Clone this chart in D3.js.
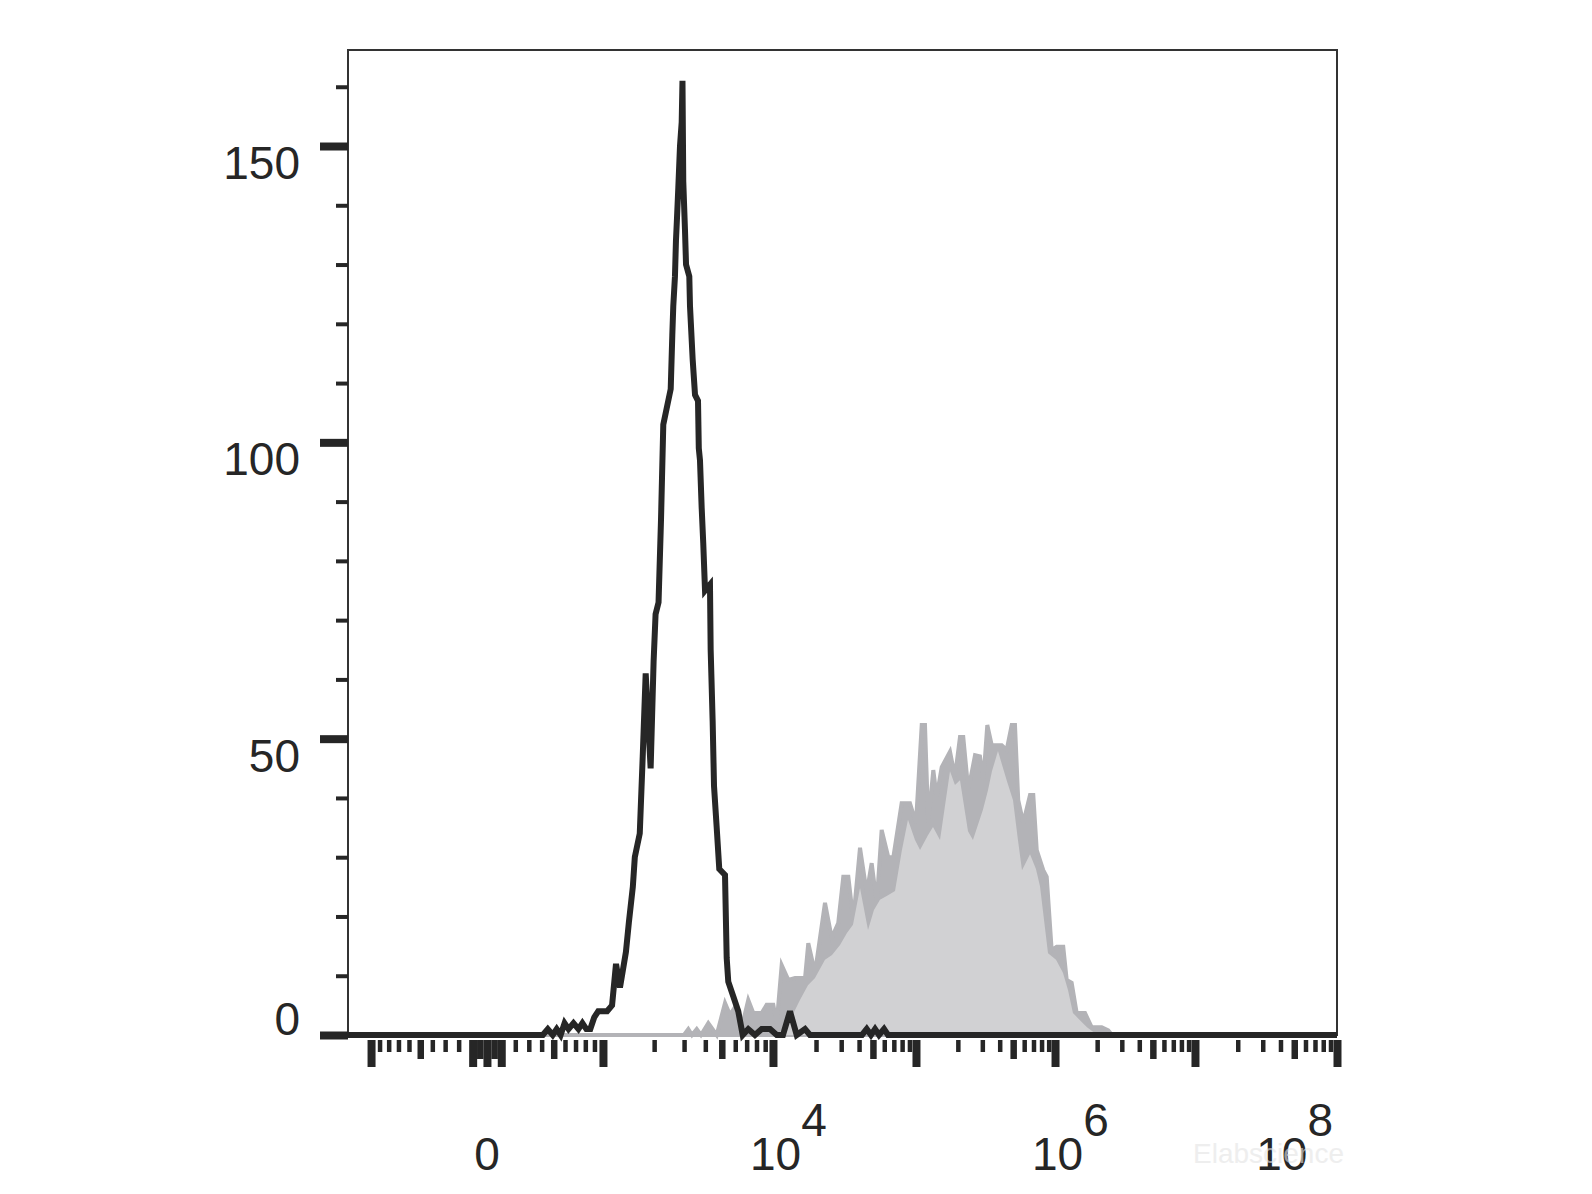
<!DOCTYPE html>
<html><head><meta charset="utf-8">
<script src="https://cdn.jsdelivr.net/npm/d3@7"></script>
<style>html,body{margin:0;padding:0;background:#fff;} svg{display:block;}</style>
</head><body>
<svg id="c" width="1592" height="1194"></svg>
<script>
// ---------- data (display channel 0..1000, event counts) ----------
const isotypeCh = [0,197,202,207,211,215,219,223,228,233,237,241,245,249,253,258,262,267,271,275,277,281,284,288,290,295,298,301,306,309,311,314,316.5,317.5,318.8,326.3,327.9,328.9,330.6,331.6,332.7,334,335.7,337.4,338.2,339,340.7,341.8,345.1,345.8,348.5,350.9,353.9,354.7,355.9,357.6,359.2,361,366,366.7,368.7,370.1,372.8,375.4,381.2,382.9,384.5,389.6,394.6,399.1,404.7,411.5,418.3,426.7,433.5,439.8,446.9,453.7,462.1,467.1,519.7,524.5,528.8,532.9,536.9,542,546,1000];
const isotypeCount = [0,0,1,0,1,0,2,1,2,1,2,1,1,3,4,4,4,5,12,8,10,14,19,25,30,34,47,61,45,63,71,73,87,94,103,109,118,123,128,134,138,143,150,154,161,144,136,130,128,123,114,108,107,99,97,89,83,75,76,65,53,42,35,28,27,13,9,6.5,4,0,1,0,1,1,0,0,4,0,1,0,0,1,0,1,0,1,0,0];

const stainedMaxCh = [0,339.7,344.1,347.8,352.6,356.9,364.3,372.8,381.2,386.2,391.3,398.1,404.7,409.8,418.3,423.3,430,433.5,438.5,445.2,452,462.1,465.4,472.2,482.3,489.1,495.7,500.8,505.9,510.9,517.7,524.5,529.5,534.6,539.6,546.3,551.4,559.8,568.2,574.3,580.1,583.4,586.7,591.8,595.2,600.3,608.7,613.7,618.8,622.1,627.2,634,639,642.4,646.4,650.9,661,666,671.1,674.4,677.7,682.8,689.6,692.9,696.4,703,706.5,711.5,716.6,723.2,726.7,731.7,736.8,745.2,752,762.1,768.7,772.5,1000];
const stainedMaxCount = [0,0,1,0,1,0,2,0,5.4,3.4,4.7,1.3,5.9,3.7,3.7,5.1,5.1,2,11.8,9.3,9.6,9.6,15.5,10.5,22.3,16.4,18.9,26.7,26.7,19.4,31.6,24,29,22.3,34.6,30,30,39.1,39.1,35.8,52.3,52.3,35.8,44.7,40.2,45.2,47.8,43.6,50.3,50.3,41.3,47.2,47,43,52.3,48.9,48.9,48.1,52.3,52.3,39.6,35.8,40.5,40.5,31.2,27.8,26.7,14.3,14.9,14.9,9.3,8.8,3.7,3.7,1.3,1.3,0.8,0,0];

const stainedMinCh = [0,431.7,438.8,446.9,457,465.1,472.2,482.3,489.4,497.5,504.5,510.6,517.7,525.8,531.8,537.9,546,553.1,560.1,566.2,573.3,578.4,586.4,591.5,598.6,608.7,613.7,618.8,626.9,631.9,642,647.1,651.1,657.2,666.3,672.4,677.4,681.5,689.6,695.6,699.7,707.8,715.9,722.9,728,733,740.1,747.2,755.3,760.3,1000];
const stainedMinCount = [0,0,0.8,2.5,5.9,8.4,9.6,12.7,13.5,15.2,17.2,18.6,24.8,17.7,21.1,22.8,23.6,24.3,31.2,36.3,32.9,31.2,33.7,35.1,32.9,44.5,42.2,43,34.4,32.9,38,41.3,44.5,47.9,42.8,39.6,32.9,27.8,30.5,28,25.1,13.8,12.7,10.5,7.6,3.7,2.5,1.3,0.3,0,0];

// ---------- ticks & labels ----------
const yMajor = [0, 50, 100, 150];
const yMinor = [10,20,30,40,60,70,80,90,110,120,130,140,160];
const yLabels = ["0","50","100","150"];
const xLongTicks = [-1000,-100,0,100,1000,1e4,1e5,1e6,1e7,1e8];
const xMedTicks = [-500,-50,50,500,5e3,5e4,5e5,5e6,5e7];
const xShortTicks = [];
[2,3,4,6,7,8,9].forEach(m => { xShortTicks.push(-m*100, m*100); [3,4,5,6,7].forEach(k => xShortTicks.push(m*Math.pow(10,k))); });
const xLabelValues = [0, 1e4, 1e6, 1e8];
const xLabelBase = ["0","10","10","10"];
const xLabelExp = ["","4","6","8"];

// ---------- layout ----------
const W = 1592, H = 1194;
const plot = {left:348, right:1337, top:50, bottom:1035};
const ink = "#262626";
const font = "'Liberation Sans', Arial, Helvetica, sans-serif";
const svg = d3.select("#c");
svg.append("rect").attr("width", W).attr("height", H).attr("fill", "#fff");

const x = d3.scaleLinear().domain([0, 1000]).range([plot.left, plot.right]);
const y = d3.scaleLinear().domain([0, 166.2]).range([plot.bottom, plot.top]);

// intensity -> display channel (biexponential display)
const decade = d3.scaleLinear().domain([-1,0,1,2,3,4,5,6]).range([23.3,140.5,257.8,429.7,574.3,714.9,856.4,1000]);
const linW = Math.asinh(1000/700);
function chOf(v){
  const a = Math.abs(v), s = Math.sign(v);
  const u = a <= 1000 ? s*Math.asinh(a/700)/linW : s*(Math.log10(a) - 2);
  return decade(u);
}

// frame
svg.append("rect").attr("x", plot.left).attr("y", plot.top)
  .attr("width", plot.right - plot.left).attr("height", plot.bottom - plot.top)
  .attr("fill", "none").attr("stroke", "#333").attr("stroke-width", 2);

const areaOf = (chs, counts) => d3.area()
  .x((d,i) => x(chs[i])).y0(y(0)).y1((d,i) => y(counts[i]))(chs);
const lineOf = (chs, counts) => d3.line()
  .x((d,i) => x(chs[i])).y((d,i) => y(counts[i]))(chs);

svg.append("path").attr("d", areaOf(stainedMaxCh, stainedMaxCount))
  .attr("fill", "#b3b3b7").attr("stroke", "#b3b3b7").attr("stroke-width", 4);
svg.append("path").attr("d", areaOf(stainedMinCh, stainedMinCount))
  .attr("fill", "#d1d1d3");
svg.append("path").attr("d", lineOf(isotypeCh, isotypeCount))
  .attr("fill", "none").attr("stroke", ink).attr("stroke-width", 6)
  .attr("stroke-linejoin", "miter").attr("stroke-miterlimit", 3);

// y axis ticks
function yTicks(vals, size, width){
  const g = svg.append("g").attr("transform", `translate(${plot.left},0)`)
    .call(d3.axisLeft(y).tickValues(vals).tickSize(size).tickFormat(""));
  g.select(".domain").remove();
  g.selectAll("line").attr("stroke", ink).attr("stroke-width", width);
}
yTicks(yMinor, 12, 4);
yTicks(yMajor, 28, 8);

// x axis ticks
function xTicks(vals, size, width){
  const g = svg.append("g").attr("transform", `translate(0,${plot.bottom + 5})`)
    .call(d3.axisBottom(x).tickValues(vals.map(chOf)).tickSize(size).tickFormat(""));
  g.select(".domain").remove();
  g.selectAll("line").attr("stroke", ink).attr("stroke-width", width);
}
xTicks(xShortTicks, 12, 4.5);
xTicks(xMedTicks, 19, 6.5);
xTicks(xLongTicks, 27, 8);

// y labels
yMajor.forEach((v,i) => {
  svg.append("text").attr("x", 300).attr("y", v === 0 ? y(0) : y(v) + 33)
    .attr("text-anchor", "end").attr("font-family", font).attr("font-size", 46)
    .attr("fill", ink).text(yLabels[i]);
});

// x labels
xLabelValues.forEach((v,i) => {
  const px = x(chOf(v));
  const t = svg.append("text").attr("y", 1170).attr("font-family", font)
    .attr("font-size", 46).attr("fill", ink);
  if (!xLabelExp[i]) {
    t.attr("x", px).attr("text-anchor", "middle").text(xLabelBase[i]);
  } else {
    const last = i === xLabelValues.length - 1;
    t.attr("x", last ? px - 4 : px - 23).attr("text-anchor", last ? "end" : "start");
    t.append("tspan").text(xLabelBase[i]);
    t.append("tspan").attr("dy", -34).text(xLabelExp[i]);
  }
});

// watermark
svg.append("text").attr("x", 1193).attr("y", 1163).attr("font-family", font)
  .attr("font-size", 28).attr("fill", "#e4e4e4").attr("opacity", 0.6).text("Elabscience");
</script>
</body></html>
